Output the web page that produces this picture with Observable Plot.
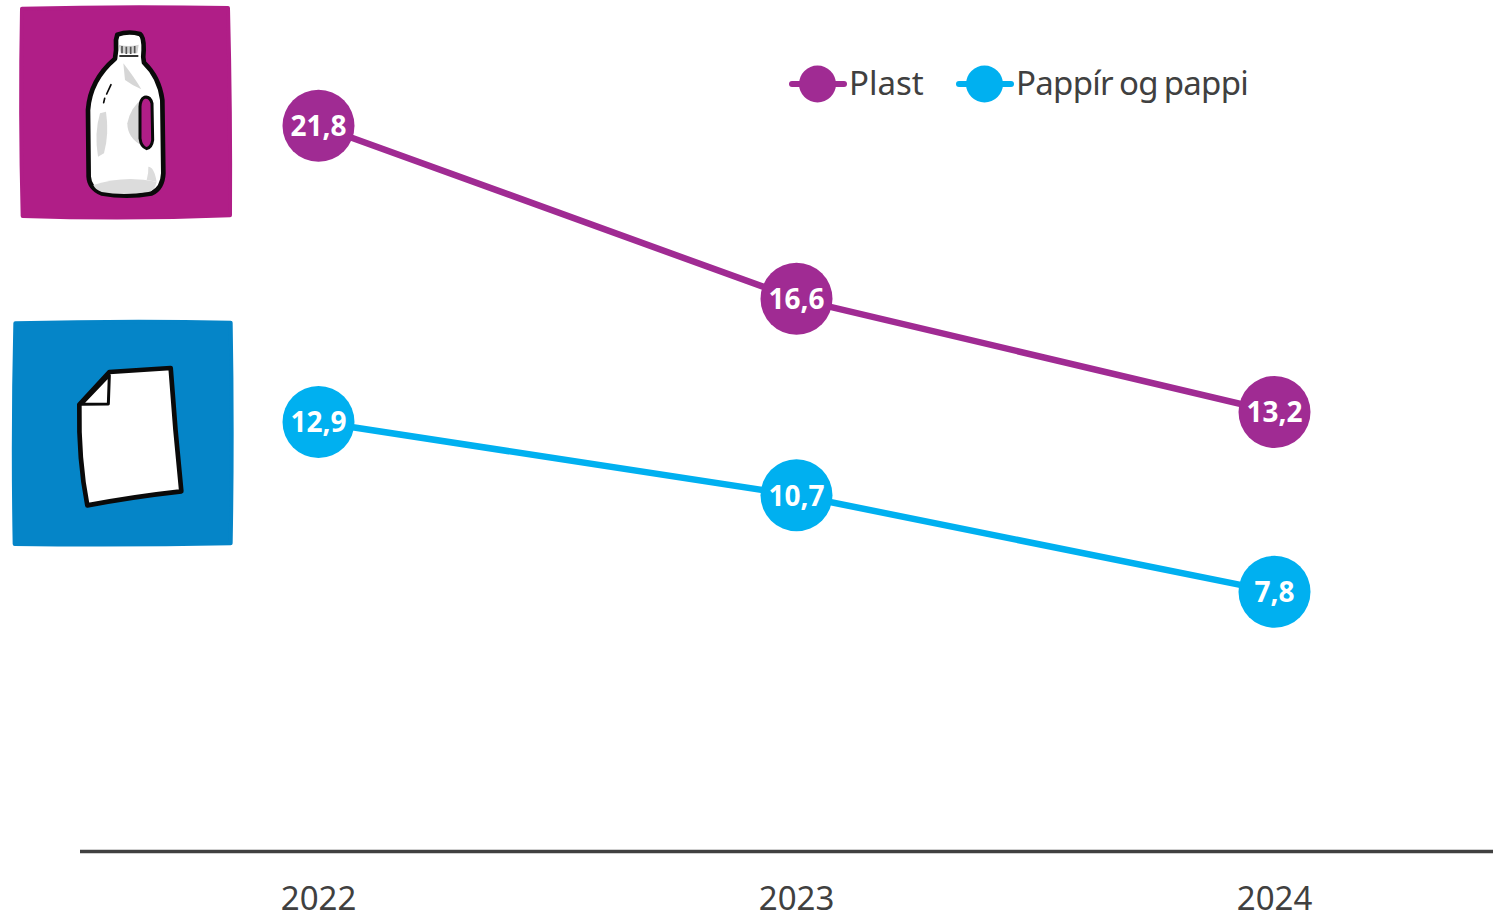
<!DOCTYPE html>
<html lang="is">
<head>
<meta charset="utf-8">
<script src="https://cdn.jsdelivr.net/npm/d3@7"></script>
<script src="https://cdn.jsdelivr.net/npm/@observablehq/plot@0.6"></script>
<style>
html,body{margin:0;padding:0;background:#fff;overflow:hidden}
#wrap{position:relative;width:1493px;height:914px;font-family:"Noto Sans",sans-serif}
#wrap>svg.icons{position:absolute;left:0;top:0;pointer-events:none}
.legend{position:absolute;left:0;top:0;width:1493px;height:0}
.lg{position:absolute;top:60px;display:flex;align-items:center;height:48px;color:#404040;font-size:33px;white-space:nowrap;gap:2px;word-spacing:-2px}
.lg span{position:relative;top:-2px}
</style>
</head>
<body>
<div id="wrap"></div>
<script>
const years = ["2022","2023","2024"];
const plast = [21.8,16.6,13.2];
const pappir = [12.9,10.7,7.8];
const seriesNames = ["Plast","Pappír og pappi"];
const seriesColors = ["#A02B93","#00B0F0"];

const rows = [
  ...years.map((y,i)=>({year:y,value:plast[i],series:seriesNames[0]})),
  ...years.map((y,i)=>({year:y,value:pappir[i],series:seriesNames[1]}))
];
const fmt = v => v.toFixed(1).replace(".",",");

const chart = Plot.plot({
  width:1493,height:914,
  marginTop:0,marginBottom:63,marginLeft:80,marginRight:0,
  style:{background:"transparent",fontFamily:'"Noto Sans",sans-serif',overflow:"visible"},
  x:{type:"point",domain:years,range:[318,1274],padding:0,round:false,label:null},
  y:{domain:[0,25.56],axis:null,label:null},
  color:{domain:seriesNames,range:seriesColors},
  marks:[
    Plot.ruleY([0],{stroke:"#404040",strokeWidth:3.5}),
    Plot.axisX({tickSize:0,tickPadding:35,fontSize:33,color:"#404040",label:null,anchor:"bottom"}),
    Plot.line(rows,{x:"year",y:"value",z:"series",stroke:"series",strokeWidth:6.5,curve:"linear"}),
    Plot.dot(rows,{x:"year",y:"value",fill:"series",r:36,stroke:null}),
    Plot.text(rows,{x:"year",y:"value",text:d=>fmt(d.value),fill:"#fff",fontSize:28,fontWeight:700,dy:1.5})
  ]
});
const wrap = document.getElementById("wrap");
wrap.appendChild(chart);

// Legend
const legend = document.createElement("div");
legend.className="legend";
[[789,seriesNames[0],seriesColors[0],"0"],[956,seriesNames[1],seriesColors[1],"-.7px"]].forEach(([left,name,color,track])=>{
  const el=document.createElement("div");
  el.className="lg";el.style.left=left+"px";el.style.letterSpacing=track;
  el.innerHTML=`<svg width="58" height="48" style="display:block"><line x1="3" x2="55" y1="24" y2="24" stroke="${color}" stroke-width="6" stroke-linecap="round"/><circle cx="28.500" cy="24" r="18.500" fill="${color}"/></svg><span>${name}</span>`;
  legend.appendChild(el);
});
wrap.appendChild(legend);

// Illustrations (decorative pictures, in a 3x pixel viewBox)
const icons=`<svg class="icons" width="1493" height="914" viewBox="0 0 4479 2742">
<path d="M66 26Q370 18 684 24Q692 340 690 646Q380 658 68 648Q60 340 66 26Z" fill="#B01E87" stroke="#B01E87" stroke-width="12" stroke-linejoin="round"/>
<path d="M352 104Q385 92 420 102Q432 110 431 150Q428 172 432 188Q478 232 487 300L490 520Q488 565 455 580Q380 594 305 580Q268 565 266 530L264 330Q270 240 345 176Q350 150 348 120Z" fill="#fff" stroke="#0a0a0a" stroke-width="14" stroke-linejoin="round"/>
<path d="M358 112Q385 104 415 112L414 126Q385 134 360 126Z" fill="#fff"/>
<path d="M356 134Q385 142 416 134L412 160L362 160Z" fill="#d0d0d0"/>
<path d="M366 138V160M379 140V162M392 140V162M404 138V160" stroke="#555" stroke-width="5"/>
<path d="M358 168H415" stroke="#0a0a0a" stroke-width="5"/>
<path d="M280 555Q370 525 470 545Q465 572 445 576Q370 588 305 576Q285 568 280 555Z" fill="#dcdcdc"/>
<path d="M445 500Q462 500 470 545L440 540Q446 520 445 500Z" fill="#dcdcdc"/>
<path d="M428 296Q392 320 382 370Q382 415 428 438Z" fill="#d6d6d6"/>
<path d="M370 190Q405 235 424 268Q395 255 375 240Z" fill="#d6d6d6"/>
<path d="M300 340Q282 400 294 470L312 460Q328 400 318 335Z" fill="#d9d9d9"/>
<path d="M433 292Q450 288 456 310L458 420Q455 442 440 446Q423 440 420 415L420 320Q421 298 433 292Z" fill="#B01E87" stroke="#0a0a0a" stroke-width="9"/>
<path d="M333 254L320 282M314 295L311 308" stroke="#0a0a0a" stroke-width="5" stroke-linecap="round"/>

<g transform="translate(0,930)">
<path d="M46 40Q370 32 692 38Q698 370 692 700Q370 706 44 702Q38 370 46 40Z" fill="#0585C8" stroke="#0585C8" stroke-width="12" stroke-linejoin="round"/>
<path d="M328 186L512 174Q525 360 544 544Q400 560 262 586Q235 450 238 284Z" fill="#fff" stroke="#0a0a0a" stroke-width="14" stroke-linejoin="round"/>
<path d="M328 196L325 282L245 283Z" fill="#fff" stroke="#0a0a0a" stroke-width="9" stroke-linejoin="round"/>
</g>
</svg>`;
wrap.insertAdjacentHTML("beforeend",icons);
</script>
</body>
</html>
